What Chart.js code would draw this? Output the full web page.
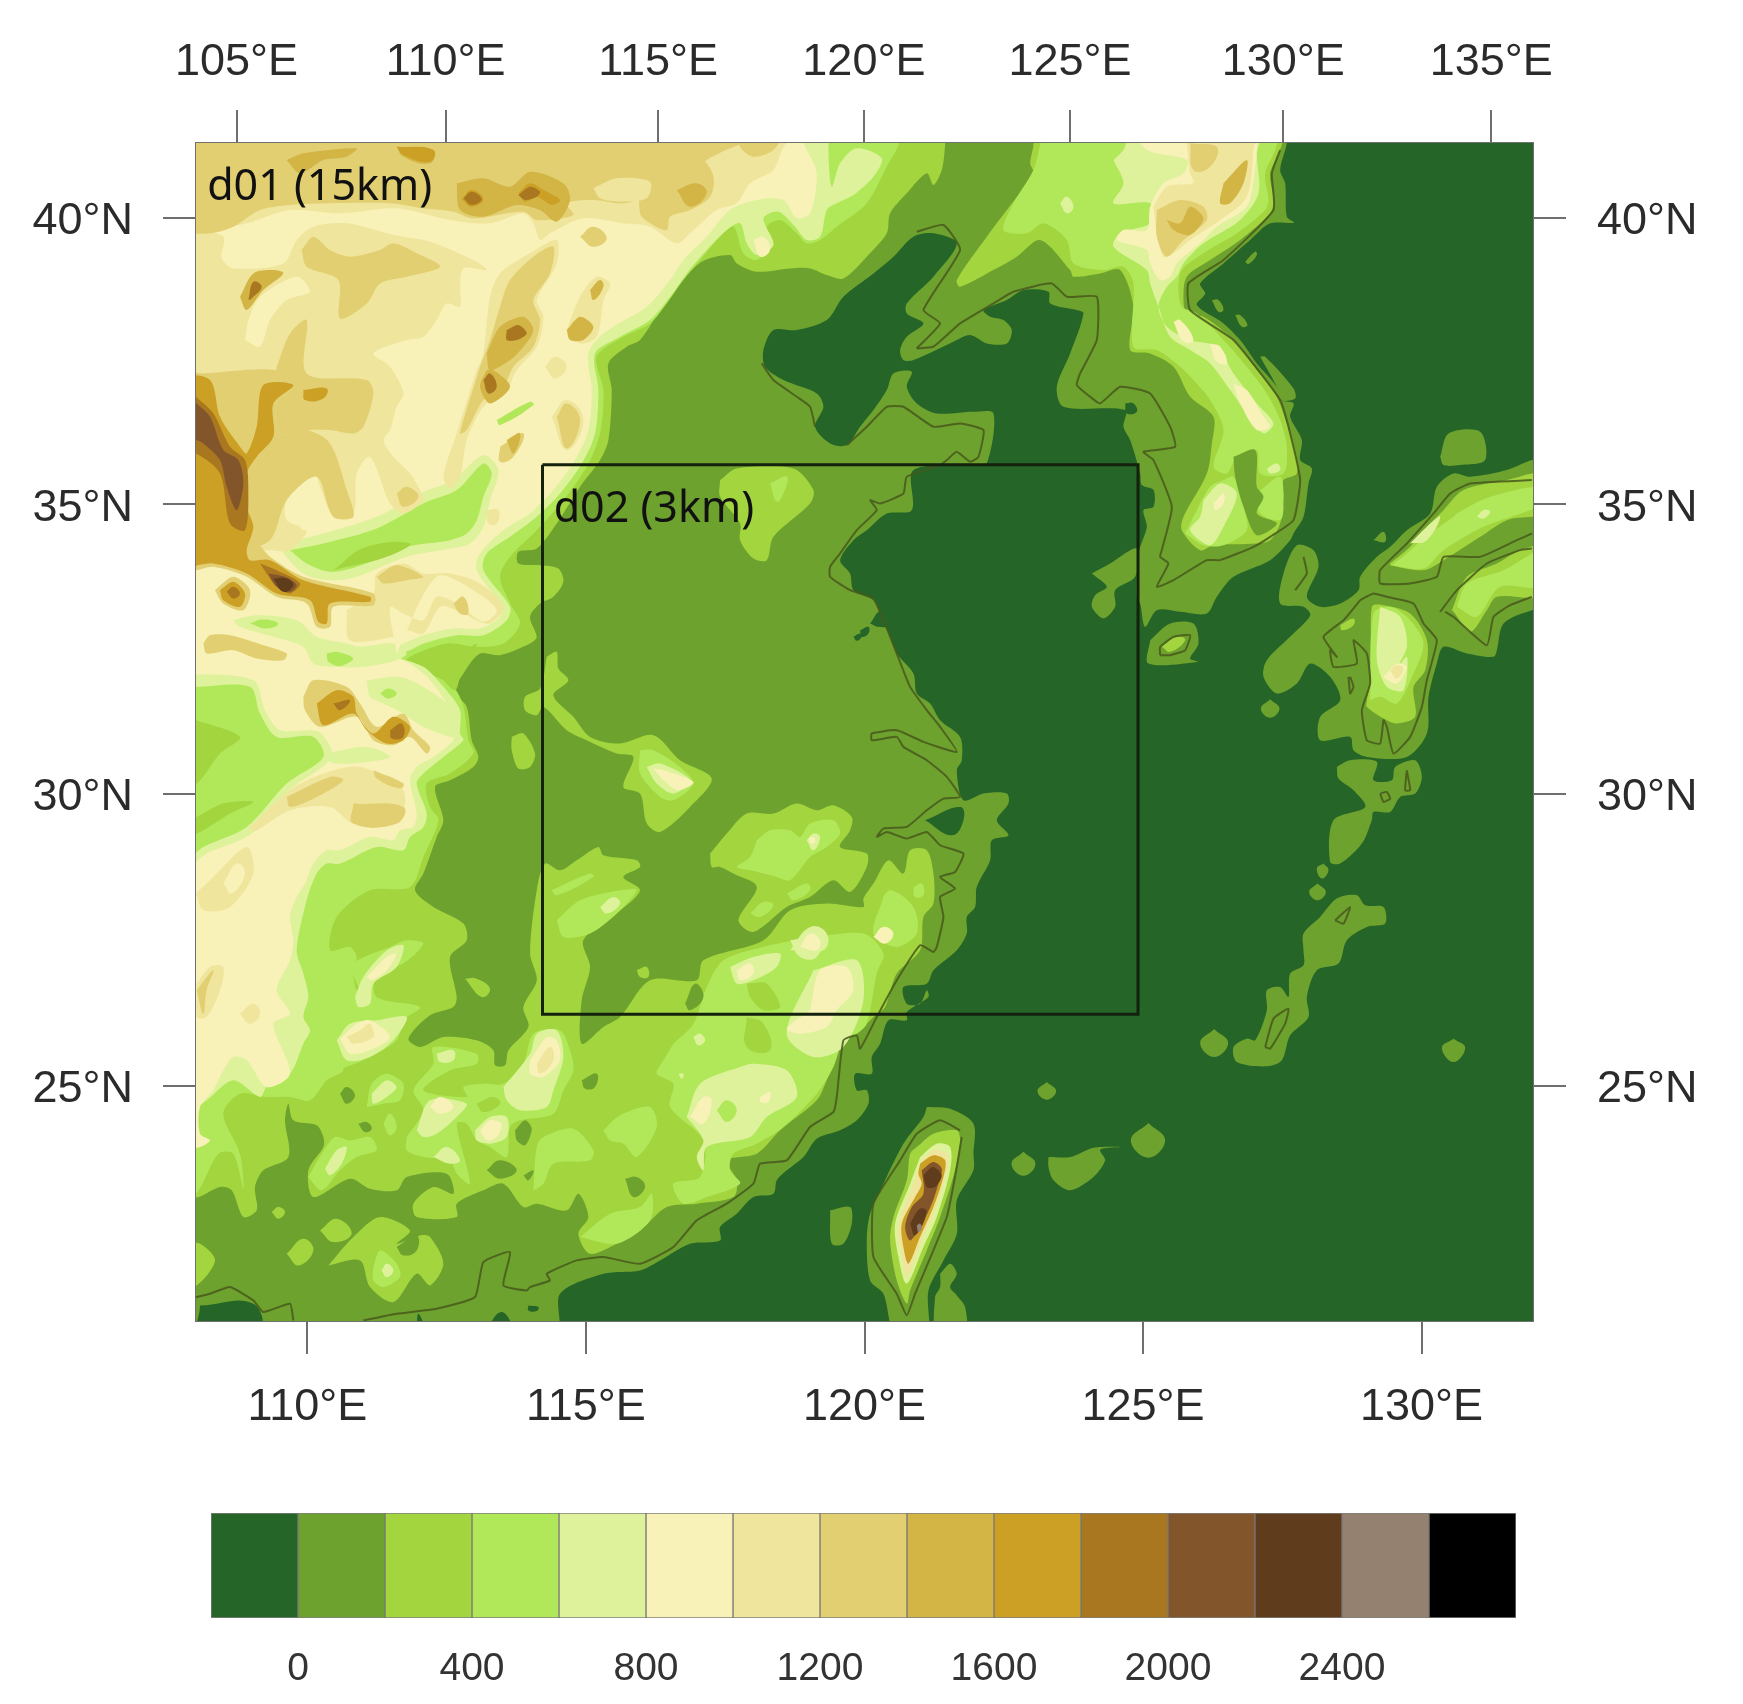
<!DOCTYPE html>
<html>
<head>
<meta charset="utf-8">
<title>WRF domains d01 / d02 terrain</title>
<script src="https://cdn.jsdelivr.net/npm/chart.js@4/dist/chart.umd.min.js"></script>
<style>
html, body { margin: 0; background: #fff; }
#wrap { position: relative; width: 1743px; height: 1704px; overflow: hidden; }
canvas { position: absolute; left: 0; filter: blur(0.6px); }
#mapChart { top: 0; }
#barChart { top: 1440px; }
</style>
</head>
<body>
<div id="wrap">
<canvas id="mapChart" width="1743" height="1440"></canvas>
<canvas id="barChart" width="1743" height="264"></canvas>
</div>
<script>
// terrain height classes (m) and their colours
const levelEdges = [-200, 0, 200, 400, 600, 800, 1000, 1200, 1400, 1600, 1800, 2000, 2200, 2400, 2600, 2800];
const levelColors = ['#256528', '#6ca22d', '#a2d53e', '#b1e85a', '#ddf29b', '#f8f1b8', '#f0e59c', '#e1cf72',
    '#d2b545', '#cba024', '#a97720', '#82552a', '#5f3c1c', '#95816f', '#000000'];
const colorbarTicks = [0, 400, 800, 1200, 1600, 2000, 2400];

// axis ticks (the projection bends a little, so the ticks are not evenly spaced)
const bottomLonTicks = [110, 115, 120, 125, 130];
const topLonTicks = [105, 110, 115.08, 120, 124.93, 130.03, 135];
const latTicks = [25, 30.05, 35.05, 40];

// nested domain d02
const boxLon = [114.22, 124.91, 124.91, 114.22, 114.22];
const boxLat = [35.73, 35.73, 26.24, 26.24, 35.73];
const domainNames = ['d01 (15km)', 'd02 (3km)'];
const domainLon = [108.2, 114.42];
const domainLat = [40.31, 34.74];

// contour outlines, flat [u, v, u, v, ...] lists in digitising units
// (1 deg lon = 167.1 u, 1 deg lat = 173.6 v), converted to lon/lat by gridLon / gridLat
const seaArea = [
[-30,-30,4060,-30,4060,3580,-30,3580]
];
const landAreas = [
[3290,-30,3290,10,3270,90,3285,130,3290,230,3312,248,3240,250,3180,300,3100,370,3030,430,3045,460,3020,495,3100,550,3150,600,3200,670,3260,740,3275,780,3310,790,3300,830,3335,900,3330,960,3365,985,3355,1030,3340,1130,3310,1180,3300,1200,3240,1260,3130,1310,3080,1370,3050,1420,2970,1415,2900,1410,2865,1460,2850,1390,2840,1375,2845,1240,2870,1160,2860,1110,2890,1100,2890,1050,2855,1035,2850,1000,2820,900,2800,860,2805,810,2620,800,2600,740,2640,640,2680,520,2660,510,2580,490,2575,455,2500,450,2450,480,2380,510,2400,530,2440,540,2465,570,2450,610,2390,610,2340,585,2290,605,2170,660,2140,660,2130,630,2150,590,2200,550,2150,520,2150,490,2230,410,2300,310,2230,280,2170,290,2110,350,2050,400,1960,470,1910,540,1820,570,1750,570,1720,630,1725,680,1780,720,1880,760,1900,800,1875,860,1920,910,1970,915,2010,860,2050,810,2090,750,2110,700,2165,695,2150,740,2180,790,2240,820,2350,815,2410,820,2390,970,2350,975,2170,990,2165,1110,2090,1120,2030,1170,1990,1200,1950,1260,1980,1300,1990,1350,2050,1380,2070,1420,2100,1490,2120,1540,2170,1600,2180,1660,2220,1690,2250,1740,2310,1790,2315,1860,2300,1890,2320,1980,2380,1960,2450,1960,2455,1990,2420,2040,2455,2085,2405,2100,2400,2160,2360,2240,2355,2300,2330,2330,2330,2380,2300,2430,2230,2490,2210,2530,2140,2540,2150,2590,2190,2590,2210,2550,2215,2570,2150,2615,2150,2640,2095,2640,2070,2710,2045,2750,2045,2800,1995,2800,2000,2850,2030,2850,2035,2890,2000,2940,1950,2970,1880,2995,1840,3050,1790,3090,1760,3120,1750,3160,1690,3170,1640,3220,1590,3260,1590,3300,1500,3310,1410,3360,1350,3390,1240,3400,1110,3460,1095,3580,-30,3580,-30,-30],
[2210,2900,2280,2905,2350,2950,2350,3040,2350,3090,2300,3180,2300,3280,2260,3360,2215,3450,2210,3580,2115,3580,2080,3460,2040,3420,2030,3300,2040,3220,2080,3130,2140,3010,2200,2930],
[2250,3400,2280,3370,2300,3400,2280,3440,2300,3465,2325,3500,2325,3580,2240,3580,2235,3470,2250,3440],
[1920,3210,1980,3200,1985,3250,1960,3310,1925,3310],
[2570,2825,2598,2852,2570,2878,2542,2852],
[2500,3034,2536,3070,2500,3106,2464,3070],
[2575,3050,2640,3050,2700,3025,2730,3020,2790,3020,2730,3028,2745,3060,2710,3110,2640,3150,2590,3120,2575,3080],
[2875,2948,2925,3000,2875,3052,2822,3000],
[3072,2666,3114,2708,3072,2750,3030,2708],
[3790,2695,3825,2722,3790,2765,3755,2722],
[3390,2330,3440,2275,3500,2265,3525,2295,3580,2300,3585,2350,3530,2360,3470,2400,3445,2470,3380,2490,3350,2570,3355,2630,3300,2685,3275,2760,3230,2778,3140,2765,3130,2720,3170,2695,3195,2700,3230,2610,3230,2550,3270,2540,3295,2570,3300,2500,3340,2475,3340,2430,3340,2380],
[4060,960,4025,960,3950,990,3840,1010,3790,1000,3740,1040,3720,1120,3650,1170,3600,1220,3560,1250,3510,1310,3505,1350,3450,1390,3390,1400,3350,1370,3385,1280,3370,1230,3320,1215,3280,1300,3270,1390,3340,1400,3360,1425,3310,1480,3230,1560,3220,1610,3260,1660,3320,1630,3360,1570,3420,1610,3450,1680,3390,1730,3390,1800,3480,1790,3490,1830,3530,1850,3650,1850,3710,1780,3715,1670,3740,1570,3760,1520,3830,1540,3910,1550,3920,1530,3940,1450,4025,1410,4060,1410],
[3440,1880,3480,1860,3560,1865,3550,1920,3605,1920,3615,1880,3675,1860,3695,1910,3675,1960,3630,1970,3600,2015,3550,2015,3545,2040,3515,2110,3450,2170,3420,2165,3430,2040,3525,2000,3490,1950,3445,1915],
[3240,1677,3268,1705,3240,1733,3212,1705],
[3382,2230,3407,2255,3382,2280,3357,2255],
[3400,2170,3415,2190,3395,2215,3380,2185],
[2880,1500,2940,1450,3010,1450,3025,1510,3000,1555,3025,1565,2875,1570],
[2705,1300,2760,1270,2840,1225,2835,1310,2775,1350,2775,1400,2740,1435,2705,1400,2715,1365,2750,1340],
[3750,950,3775,880,3870,875,3885,960,3810,975,3760,975],
[3550,1200,3580,1175,3585,1205],
[3165,365,3195,335,3200,345,3175,372],
[3065,480,3085,480,3100,510,3085,515],
[3135,525,3150,525,3172,555,3155,560],
[3210,650,3225,650,3310,745,3315,775,3270,780,3260,740]
];
const seaPatches = [
[2205,2040,2310,2000,2320,2040,2285,2085],
[30,3495,190,3490,205,3580,30,3580],
[880,3580,935,3515,965,3580],
[680,3580,685,3520,705,3580],
[1015,3495,1045,3500,1040,3512,1015,3510],
[2040,1450,2070,1415,2095,1455,2065,1460],
[2010,1470,2035,1460,2035,1480,2015,1490],
[1990,1490,2010,1480,2015,1490,2000,1502],
[2805,790,2830,790,2840,815,2810,820]
];
const above200 = [
[2265,-30,2265,15,2255,90,2230,135,2210,100,2150,160,2100,220,2090,280,2030,350,1960,415,1910,405,1860,385,1800,385,1700,395,1640,370,1620,345,1535,365,1470,430,1410,510,1350,600,1310,620,1255,670,1265,750,1255,900,1230,960,1170,1040,1100,1150,1040,1225,985,1235,985,1270,1050,1275,1105,1285,1120,1325,1090,1370,1050,1390,1020,1430,1040,1490,1020,1510,930,1545,870,1540,820,1600,795,1655,830,1700,845,1800,865,1850,850,1880,780,1920,735,1940,760,2040,740,2090,700,2200,675,2250,730,2300,820,2350,830,2400,780,2450,800,2570,790,2600,720,2625,655,2695,690,2720,760,2690,860,2700,910,2730,915,2775,945,2775,955,2730,1015,2660,1000,2600,1040,2520,1020,2440,1040,2250,1065,2170,1110,2190,1160,2160,1225,2120,1240,2145,1340,2160,1350,2180,1300,2210,1350,2250,1280,2320,1180,2400,1200,2480,1175,2580,1175,2710,1240,2660,1290,2630,1380,2520,1520,2520,1540,2460,1720,2400,1800,2310,1910,2290,2020,2300,2020,2275,2050,2230,2095,2160,2140,2200,2160,2130,2210,2130,2230,2200,2230,2290,2200,2330,2190,2430,2120,2500,2085,2600,2050,2630,2000,2680,1960,2700,1910,2820,1880,2880,1770,2970,1700,3040,1610,3060,1640,3120,1630,3170,1520,3190,1430,3200,1350,3270,1280,3310,1200,3340,1165,3280,1195,3230,1165,3160,1130,3210,1040,3190,1000,3200,940,3130,880,3150,800,3190,800,3230,680,3230,670,3190,730,3140,790,3160,770,3100,650,3110,620,3150,540,3145,480,3115,370,3170,355,3090,400,3020,400,2990,380,2955,310,2940,295,2890,285,2940,295,3050,220,3090,195,3140,200,3210,160,3230,125,3150,90,3140,25,3170,-30,3170,-30,-30],
[2530,-30,2530,15,2520,70,2530,100,2450,210,2390,290,2300,420,2310,440,2410,390,2480,350,2550,300,2640,390,2650,410,2730,400,2790,390,2830,500,2820,630,2880,640,2950,680,3000,770,3070,830,3065,910,3050,1000,2980,1130,2975,1170,3030,1230,3070,1215,3200,1210,3240,1200,3270,1150,3280,1070,3280,1020,3320,1000,3310,920,3290,850,3255,760,3200,690,3130,600,3040,530,2990,520,2980,480,2990,410,3060,360,3150,300,3240,220,3250,180,3240,100,3270,30,3275,-30],
[1590,1020,1640,985,1810,985,1870,1050,1860,1090,1750,1190,1730,1260,1690,1255,1650,1200,1650,1150,1590,1070],
[1070,1550,1100,1535,1105,1585,1135,1620,1090,1665,1150,1730,1200,1790,1290,1810,1390,1785,1470,1860,1565,1915,1500,2000,1410,2075,1370,2050,1350,1960,1300,1940,1330,1850,1280,1840,1190,1800,1130,1770,1060,1700,1040,1725,1005,1710,1005,1670,1050,1645],
[965,1790,1000,1780,1035,1840,1020,1880,985,1885,965,1830],
[1560,2140,1610,2080,1670,2020,1750,2020,1820,1990,1880,2010,1930,1995,1985,2030,1980,2070,1950,2120,2030,2140,2030,2180,1980,2255,1930,2220,1860,2270,1790,2300,1690,2375,1645,2340,1700,2240,1630,2200,1590,2180,1565,2180],
[3600,1270,3660,1220,3700,1170,3760,1110,3820,1050,3950,1020,4025,1000,4060,1000,4060,1130,4025,1130,3950,1140,3870,1190,3760,1260,3700,1290,3600,1275],
[3785,1410,3830,1310,3920,1270,3990,1230,4060,1220,4060,1365,3920,1370,3890,1410,3840,1475,3790,1415],
[3530,1680,3545,1600,3545,1400,3580,1395,3660,1420,3710,1500,3705,1590,3670,1640,3675,1730,3620,1750,3580,1735,3530,1700],
[3450,1455,3490,1435,3490,1455,3455,1470],
[2915,1520,2960,1490,2985,1500,2940,1535],
[825,2515,860,2515,900,2545,875,2570],
[1340,2490,1370,2480,1375,2510,1350,2510],
[415,3375,490,3290,570,3230,660,3270,620,3310,690,3285,720,3290,760,3370,720,3435,680,3400,610,3485,540,3440,510,3360],
[390,3270,440,3235,485,3280,430,3305],
[290,3340,340,3295,370,3330,325,3375],
[-30,3310,30,3310,75,3360,20,3435,-30,3435],
[245,3215,265,3200,285,3215,265,3235],
[2180,3020,2230,2980,2300,2970,2310,3000,2295,3090,2250,3230,2210,3330,2160,3450,2150,3490,2120,3420,2100,3300,2110,3230,2150,3120,2160,3040]
];
const gaps200 = [
[450,2860,470,2840,495,2865,470,2890],
[505,2950,530,2945,545,2965,525,2975],
[975,2970,1005,2940,1025,2965,1005,3015,980,3000],
[890,3090,930,3060,980,3090,930,3115],
[1000,3105,1030,3090,1015,3120],
[1175,2820,1220,2800,1215,2840,1185,2845],
[1305,3115,1340,3110,1365,3140,1330,3170],
[1485,2590,1515,2530,1540,2570,1500,2610],
[620,3320,680,3285,680,3330,640,3345],
[3130,950,3195,930,3200,1040,3220,1070,3200,1120,3260,1150,3200,1185,3160,1100,3135,1010]
];
const above400 = [
[-30,3160,18,3160,85,3040,130,3040,160,3145,150,3040,100,2920,150,2860,230,2870,300,2870,360,2880,410,2820,460,2790,440,2740,440,2680,480,2660,540,2590,500,2550,490,2490,500,2450,480,2420,420,2430,440,2330,540,2250,660,2240,700,2150,745,2040,720,2000,710,1930,780,1900,850,1840,835,1800,820,1700,790,1640,720,1600,650,1560,680,1540,770,1510,860,1520,940,1510,990,1450,960,1390,930,1310,960,1250,1040,1170,1120,1080,1190,980,1230,880,1240,750,1220,650,1300,590,1380,550,1430,490,1480,420,1530,360,1590,290,1630,260,1660,340,1700,360,1750,310,1730,260,1770,240,1820,280,1850,310,1890,300,1940,260,2030,190,2095,70,2125,15,2125,-30,-30,-30],
[410,2800,440,2660,490,2620,540,2580,500,2530,490,2470,600,2420,650,2400,700,2410,640,2470,560,2500,560,2570,690,2600,640,2640,620,2700,520,2760,440,2790],
[355,3110,395,3040,435,2990,480,3000,540,2990,560,3030,500,3050,450,3090,395,3150],
[530,2900,545,2830,590,2800,640,2830,630,2880,580,2890],
[580,2950,600,2920,620,2960,600,2985],
[650,2990,700,2910,670,2850,730,2770,730,2720,860,2740,860,2770,780,2790,700,2850,830,2870,820,2840,880,2830,940,2830,1000,2770,1030,2680,1110,2670,1140,2730,1150,2790,1120,2850,1090,2920,990,2940,960,2960,950,3050,900,3020,860,3000,830,2950,800,2950,840,3130,800,3100,780,3060,700,3050,650,3030],
[1030,3150,1040,3020,1060,2990,1150,2965,1210,3030,1200,3060,1090,3070,1060,3130],
[1240,2970,1290,2925,1380,2900,1400,2960,1340,3050,1300,3010,1260,3000],
[1170,3290,1260,3220,1350,3200,1385,3160,1380,3240,1280,3310],
[1450,2710,1510,2650,1550,2540,1600,2460,1720,2420,1850,2395,2020,2380,2080,2440,2060,2500,2030,2650,2000,2680,1960,2700,1930,2780,1880,2860,1780,2960,1700,3010,1630,3040,1620,3090,1650,3130,1550,3170,1480,3190,1450,3130,1530,3110,1540,3000,1440,2900,1450,2830,1400,2800,1420,2760],
[2060,2300,2100,2250,2170,2300,2180,2380,2120,2420,2050,2380,2080,2270],
[1700,2100,1740,2070,1800,2070,1830,2090,1860,2050,1930,2040,1950,2080,1910,2120,1860,2150,1800,2220,1760,2210,1680,2190,1640,2180,1680,2150],
[1680,2320,1720,2285,1750,2295,1710,2330],
[1790,2260,1850,2230,1860,2250,1810,2280],
[2170,2240,2195,2230,2200,2265,2175,2270],
[1100,2340,1170,2280,1290,2250,1340,2250,1280,2320,1200,2380,1120,2390],
[1085,2250,1200,2200,1210,2210,1100,2265],
[1350,1830,1390,1830,1470,1880,1510,1930,1450,1980,1410,1970,1350,1900],
[1740,1030,1790,1010,1780,1060,1760,1085],
[550,3380,570,3330,620,3370,630,3410,580,3440,550,3420],
[2560,-30,2550,15,2530,90,2470,190,2440,270,2510,280,2560,250,2630,300,2650,370,2740,390,2800,380,2830,430,2830,620,2900,630,2970,680,3010,720,3060,780,3100,870,3070,980,3110,1000,3140,950,3200,930,3210,1000,3280,1000,3290,920,3270,840,3230,760,3170,680,3110,610,3020,520,2975,500,2965,440,2975,390,3040,340,3140,280,3225,210,3235,180,3225,100,3255,30,3260,-30],
[2985,1180,3020,1110,3060,1040,3100,1020,3130,1010,3160,1100,3170,1170,3100,1215,3040,1215],
[3200,1060,3270,1010,3280,1100,3270,1140,3210,1120],
[3605,1275,3650,1240,3700,1195,3790,1130,3800,1120,3900,1070,4060,1040,4060,1090,3880,1160,3760,1230,3700,1285],
[3800,1400,3830,1330,3940,1290,4060,1230,4060,1340,3930,1340,3860,1430],
[3540,1680,3550,1420,3600,1400,3660,1440,3700,1510,3670,1600,3620,1690,3570,1670]
];
const gaps400 = [
[20,1740,150,1790,90,1840,20,1930,-30,1930,-30,1740],
[20,2030,100,1990,190,1985,120,2020,20,2080,-30,2080],
[660,1560,780,1560,860,1510,815,1590,795,1650,740,1600],
[1670,2530,1730,2530,1770,2600,1720,2610,1680,2570],
[1670,2630,1720,2650,1740,2730,1670,2720],
[860,2890,910,2870,930,2890,880,2915]
];
const above600 = [
[1925,-30,1915,20,1925,140,1950,70,2000,25,2075,55,2050,110,1990,165,1940,190,1910,210,1890,290,1850,300,1815,260,1765,215,1720,235,1750,315,1700,345,1670,310,1650,250,1610,270,1550,330,1490,400,1440,470,1380,540,1290,590,1215,640,1225,750,1215,880,1175,970,1110,1060,1040,1130,960,1190,890,1240,880,1290,960,1400,950,1440,880,1485,800,1485,700,1510,660,1530,610,1545,700,1580,760,1640,810,1710,810,1780,820,1800,760,1850,700,1900,680,1930,710,2020,700,2060,660,2090,640,2130,560,2120,450,2170,410,2170,380,2200,350,2280,320,2430,340,2500,355,2570,340,2630,360,2670,340,2710,300,2800,230,2840,210,2870,130,2820,50,2880,20,2900,-30,2900,-30,-30],
[440,2700,480,2650,560,2640,650,2630,610,2700,540,2750,470,2760],
[495,2570,520,2510,590,2430,640,2415,620,2480,550,2530,540,2590,505,2600],
[405,3085,440,3030,470,3020,455,3070,420,3105],
[545,2860,590,2820,620,2840,590,2870,550,2890],
[680,2970,720,2880,830,2890,800,2930,740,2980,700,2990],
[730,3050,770,3020,810,3060,780,3070],
[855,2970,900,2930,950,2930,950,2990,900,3010,860,3000],
[740,2740,790,2730,790,2760,750,2765],
[940,2840,1020,2740,1040,2680,1100,2670,1120,2750,1090,2850,1070,2900,990,2910,950,2880],
[1620,2480,1690,2450,1770,2440,1760,2480,1690,2520,1640,2530],
[1870,2490,2000,2460,2020,2580,1960,2720,1870,2750,1790,2680],
[1800,2400,1890,2390,1880,2450,1830,2450],
[1490,2930,1530,2830,1650,2780,1690,2770,1790,2790,1820,2870,1730,2930,1680,2990,1550,3020,1540,3090,1520,3050,1540,3000],
[1510,2690,1530,2680,1545,2700,1525,2715],
[1465,2800,1480,2800,1475,2815],
[1800,2430,1860,2360,1910,2380,1900,2430],
[1850,2100,1870,2080,1890,2090,1870,2130],
[1230,2300,1270,2270,1290,2290,1250,2320],
[1370,1880,1410,1870,1500,1920,1450,1960,1400,1930],
[575,3390,590,3370,610,3390,590,3410],
[2770,60,2800,30,2830,-30,3210,-30,3200,40,3205,160,3150,240,3040,310,2980,370,2960,410,2930,440,2905,500,2930,560,3000,600,3080,620,3130,700,3200,790,3250,850,3220,880,3170,820,3120,750,3060,670,3000,630,2940,590,2905,500,2880,430,2870,390,2770,320,2790,280,2880,250,2880,190,2770,190,2800,130],
[3040,1080,3090,1030,3140,1060,3100,1160,3060,1215,3000,1170,3030,1130],
[3230,985,3260,970,3270,990,3240,1000],
[2610,190,2630,170,2650,200,2630,220],
[3660,1210,3710,1160,3750,1130,3710,1200],
[3860,1130,3880,1110,3900,1115,3880,1135],
[3570,1400,3630,1430,3650,1520,3610,1600,3650,1550,3640,1650,3590,1640,3560,1560],
[2190,3050,2240,3010,2280,3020,2280,3090,2240,3230,2200,3320,2150,3430,2125,3350,2115,3250,2160,3130]
];
const above800 = [
[1820,-30,1850,30,1880,100,1860,220,1820,235,1780,180,1700,180,1620,210,1550,290,1480,360,1440,420,1370,500,1240,580,1195,640,1205,750,1195,870,1155,960,1090,1050,1020,1120,940,1170,870,1240,860,1290,935,1400,925,1435,870,1465,790,1465,700,1485,640,1510,580,1530,660,1570,720,1620,780,1710,785,1780,790,1800,730,1850,680,1880,660,1920,680,2020,670,2060,630,2070,610,2100,540,2090,450,2130,410,2130,370,2170,345,2230,320,2270,300,2330,310,2400,300,2460,260,2550,300,2620,250,2650,300,2800,230,2840,170,2760,130,2750,100,2790,70,2850,30,2900,30,2980,60,3000,30,3020,-30,3020,-30,-30],
[450,2695,500,2650,540,2640,600,2690,540,2730,480,2740],
[530,2510,590,2450,620,2440,590,2490,545,2520],
[720,2900,750,2870,790,2900,750,2920],
[870,2970,900,2940,935,2950,920,2990,890,3000],
[1020,2760,1070,2690,1100,2700,1110,2760,1060,2810,1020,2800],
[1640,2490,1680,2470,1690,2500,1650,2520],
[1860,2610,1890,2490,1970,2480,1990,2550,1940,2610,1910,2660,1830,2680,1790,2665],
[1500,2930,1540,2870,1565,2880,1540,2950],
[1710,2870,1740,2855,1735,2885,1710,2885],
[1830,2420,1860,2380,1890,2400,1880,2430],
[1855,2095,1870,2090,1875,2105,1862,2110],
[1390,1885,1420,1890,1510,1925,1465,1950,1420,1920],
[2050,2390,2080,2360,2110,2380,2085,2410],
[2830,-30,2870,30,2990,60,2980,100,2920,130,2880,200,2870,270,2800,270,2780,300,2870,330,2880,370,2910,420,2940,410,2960,370,3030,310,3080,260,3170,200,3190,120,3200,30,3195,-30],
[2950,545,2970,540,3010,600,2980,605],
[3060,610,3090,620,3110,670,3080,665],
[3130,730,3170,750,3220,830,3240,860,3200,870,3150,790],
[3070,1090,3100,1060,3100,1090,3075,1110],
[3590,1600,3620,1570,3650,1580,3620,1630,3580,1610],
[1690,300,1720,290,1740,330,1710,350]
];
const basinRim = [
[-30,1600,190,1620,225,1710,270,1770,385,1775,425,1850,305,1945,185,2080,50,2140,-30,2190],
[260,1215,400,1180,560,1130,690,1060,790,1020,880,945,925,990,900,1080,880,1160,840,1210,780,1225,650,1250,500,1310,420,1320,340,1300],
[130,1440,200,1425,320,1440,380,1490,470,1510,510,1520,610,1510,650,1540,620,1560,520,1580,430,1580,370,1570,340,1520,250,1490,150,1460],
[530,1620,625,1610,700,1640,800,1720,800,1790,700,1760,640,1720,580,1690,540,1670],
[410,1840,530,1820,600,1850,480,1870,420,1865]
];
const basinFloor = [
[-30,1640,18,1640,180,1640,210,1720,260,1790,370,1790,400,1850,290,1930,170,2060,40,2120,-30,2170],
[300,1230,400,1210,560,1165,700,1090,800,1050,880,970,905,1000,880,1070,860,1140,830,1180,780,1200,650,1220,500,1280,420,1295,350,1270],
[180,1450,220,1438,265,1450,230,1465],
[410,1540,440,1535,490,1555,450,1578,415,1565],
[570,1660,595,1645,620,1660,595,1675],
[920,840,1020,785,1030,795,930,855],
[1580,2910,1610,2880,1640,2910,1610,2945]
];
const basinWedges = [
[20,1740,150,1790,90,1840,20,1930,-30,1930,-30,1740],
[20,2030,100,1990,190,1985,120,2020,20,2080,-30,2080],
[430,1290,530,1220,660,1210,590,1250]
];
const above1000 = [
[-30,260,100,260,170,250,300,210,450,220,620,205,780,240,900,250,1000,220,1030,250,1050,300,1080,280,1180,235,1300,250,1380,260,1460,310,1500,280,1580,210,1640,190,1680,130,1750,90,1780,20,1820,-30,-30,-30],
[18,270,100,290,95,355,130,385,280,370,320,300,370,260,470,250,610,285,720,305,850,360,890,390,820,385,810,440,810,500,770,490,740,540,700,590,650,600,550,640,600,680,640,760,620,800,600,870,580,900,610,950,660,1000,690,1050,700,1080,640,1120,600,1090,540,950,500,1000,490,1120,430,1130,370,1010,290,1080,290,1140,350,1170,300,1230,240,1230,-30,1230,-30,270],
[860,690,880,640,900,470,930,400,1020,340,1100,300,1100,370,1040,480,1060,530,1040,620,980,690,950,750,880,800,830,900,810,1010,780,1045,760,1010,800,880],
[1130,570,1170,470,1220,410,1260,430,1240,480,1220,590,1170,610],
[1065,680,1095,650,1130,680,1095,715],
[1085,830,1130,780,1180,840,1130,930],
[890,1110,925,1110,920,1150,895,1150],
[470,1410,550,1360,560,1300,640,1270,700,1300,780,1300,870,1330,940,1400,900,1450,860,1440,800,1410,750,1400,700,1480,650,1470,610,1490,480,1500],
[180,2060,300,1950,400,1900,510,1880,640,1950,620,2050,490,2050,420,2000,300,2010,190,2075],
[18,2260,60,2220,170,2120,190,2200,120,2300,40,2310],
[20,2530,60,2480,100,2480,90,2550,50,2630,20,2630],
[150,2620,190,2590,210,2620,180,2650],
[1040,2770,1080,2720,1090,2760,1050,2800],
[470,2690,510,2670,540,2650,550,2690,490,2710],
[2890,200,2930,140,3010,130,3000,100,2995,60,3000,-30,3195,-30,3190,30,3170,170,3090,240,3000,300,2950,340,2920,350,2900,280],
[3600,1590,3620,1575,3640,1585,3620,1615],
[2195,3060,2230,3030,2270,3040,2270,3090,2230,3220,2190,3310,2150,3410,2135,3340,2125,3260,2170,3130]
];
const gaps1000 = [
[18,0,270,0,240,30,120,50,18,55],
[165,600,175,540,210,470,320,410,360,455,290,480,240,540,210,620],
[290,1080,310,1010,380,1010,380,1130,340,1170],
[620,1540,740,1310,850,1350,920,1410,880,1445,800,1390,740,1370,700,1440,640,1420,600,1400],
[100,2230,140,2170,165,2200,125,2260]
];
const above1200 = [
[-30,280,60,280,130,260,210,210,300,195,420,190,600,190,700,205,790,215,850,235,1000,215,1040,240,1150,225,1130,190,1210,180,1300,190,1380,165,1420,130,1500,100,1550,60,1620,25,1760,-30,-30,-30],
[1350,60,1530,55,1570,110,1560,170,1500,210,1440,230,1430,270,1380,250,1350,220],
[335,330,370,290,420,330,480,350,570,330,610,310,680,340,750,380,650,410,570,430,530,490,450,535,445,420,350,380],
[260,680,300,580,350,540,350,700,530,720,550,760,520,860,490,880,420,870,350,870,270,880,260,790,310,740,260,690],
[40,700,260,690,310,740,260,790,270,880,350,870,420,910,470,1050,490,1130,430,1130,380,1010,290,1080,240,1200,140,1230,-30,1230,-30,700],
[870,680,900,600,930,500,960,420,1030,350,1090,320,1080,400,1030,480,1050,540,1030,620,970,680,940,740,880,780,830,870,810,880],
[930,920,1000,880,970,950,930,965],
[1100,830,1130,790,1170,840,1130,925],
[620,1060,650,1040,685,1070,640,1100],
[1170,290,1210,260,1250,295,1210,320],
[-30,1170,180,1190,240,1250,340,1310,550,1360,550,1395,430,1400,420,1460,380,1460,350,1390,260,1370,170,1310,70,1280,18,1290,-30,1290],
[75,1350,130,1310,180,1350,160,1410,100,1390],
[40,1510,60,1485,120,1485,220,1515,290,1540,280,1560,200,1555,130,1530,50,1540],
[340,1670,370,1620,470,1640,510,1690,560,1760,640,1720,670,1770,720,1820,710,1840,660,1790,610,1815,550,1800,500,1730,390,1760,345,1710],
[290,1970,420,1910,460,1920,380,1970,300,2000],
[550,1890,640,1930,630,1945,560,1915],
[490,1990,640,2000,620,2050,490,2050],
[560,1310,620,1275,700,1310,650,1320,580,1330],
[790,1390,820,1370,835,1420,810,1420],
[20,2550,70,2490,50,2550,40,2620],
[3000,10,3080,20,3060,80,3010,90],
[2900,210,2970,180,3040,200,3050,240,2980,300,2930,350,2900,290],
[1650,-30,1780,-30,1750,30,1690,50,1650,20]
];
const gaps1200 = [
[1210,145,1280,115,1380,125,1370,175,1290,185,1230,175]
];
const above1400 = [
[800,130,880,115,960,140,1020,95,1120,130,1140,180,1100,245,1050,210,980,195,880,230,810,210],
[290,60,340,40,500,25,470,50,400,60,330,100],
[620,20,730,30,720,70,640,50],
[150,470,190,400,250,390,280,400,220,450,170,510],
[890,640,930,560,1000,530,1030,570,1000,620,960,660,900,690],
[890,690,910,690,960,740,900,790,870,740],
[1130,570,1170,530,1210,560,1180,600,1140,600],
[1200,450,1230,420,1240,440,1210,480],
[180,1000,210,830,230,835,200,890],
[950,900,990,880,970,940],
[1460,150,1520,130,1550,160,1500,200],
[3100,130,3170,60,3160,130,3120,190,3090,190],
[2930,240,2970,250,3000,200,3040,235,3000,285,2950,270]
];
const above1600 = [
[815,178,845,150,880,178,845,200],
[985,160,1020,130,1060,150,1110,180,1085,195,1040,170,1005,185],
[620,20,730,30,720,65,640,45],
[340,750,410,745,400,775,345,780],
[-30,700,60,720,90,830,150,920,170,940,200,860,220,735,310,735,250,790,250,890,200,950,170,1000,170,1100,190,1160,170,1230,180,1260,240,1260,340,1320,540,1370,540,1385,420,1390,410,1450,385,1445,360,1380,260,1360,170,1300,70,1270,-30,1270],
[90,1350,130,1325,165,1360,150,1400,100,1380],
[380,1690,440,1650,490,1670,500,1720,550,1780,610,1730,660,1760,640,1800,590,1810,530,1770,490,1720,400,1755],
[2190,3070,2230,3045,2265,3060,2260,3110,2230,3200,2190,3290,2155,3370,2140,3320,2135,3250,2175,3170,2195,3130,2185,3100]
];
const above1800 = [
[18,770,70,820,120,920,165,960,175,1050,165,1170,120,1150,90,1000,18,940,-30,940,-30,770],
[820,175,845,155,875,178,845,195],
[985,165,1020,140,1050,155,1040,170,1005,180],
[175,480,190,425,215,440,185,475],
[950,570,985,555,1010,580,980,600,950,600],
[880,720,900,700,920,740,895,760],
[210,1270,260,1290,330,1330,300,1360,260,1340],
[110,1355,130,1340,150,1360,130,1375],
[430,1690,480,1680,450,1710],
[600,1770,635,1750,640,1790,605,1795]
];
const above2000 = [
[20,790,60,830,100,930,145,960,160,1030,140,1110,110,1040,90,960,40,910,18,900,-30,900,-30,790],
[235,1300,285,1310,320,1335,300,1355,260,1340],
[2195,3090,2230,3065,2255,3085,2245,3130,2225,3190,2190,3260,2160,3300,2145,3260,2165,3200,2200,3160]
];
const above2200 = [
[250,1315,290,1315,310,1335,280,1355],
[2200,3105,2228,3080,2255,3105,2235,3140,2210,3140],
[2160,3250,2190,3205,2210,3215,2175,3285]
];
const above2400 = [
[2180,3255,2190,3250,2195,3265,2185,3275]
];
const coastLines = [
[1715,670,1750,720,1820,770,1860,800,1875,860],
[1970,915,2030,860,2090,800,2140,800,2230,860,2310,850,2380,870,2365,950,2340,965,2300,935,2270,960,2250,975,2150,1010,2140,1060,2070,1090,2040,1080,2060,1110,2000,1170,1950,1240,1920,1280,1920,1310,1980,1350,2050,1375,2120,1540,2160,1640,2210,1710,2250,1760,2300,1835,2200,1805,2120,1770,2045,1780,2045,1800,2120,1790,2140,1820,2210,1860,2270,1910,2310,1970,2260,1975,2210,2010,2150,2060,2080,2065,2060,2090,2090,2075,2150,2095,2210,2075,2250,2115,2320,2140,2295,2195,2250,2210,2295,2245,2250,2270,2260,2330,2240,2420,2230,2435,2190,2415,2120,2520,2060,2630,2010,2725,2000,2685,1960,2700,1940,2870,1930,2915,1860,2960,1790,3060,1710,3070,1690,3130,1610,3190,1520,3240,1450,3320,1350,3370,1240,3350,1160,3360,1070,3400,1080,3420,1020,3440,1010,3450,940,3435,960,3335,880,3365,855,3470,740,3505,620,3520,520,3540],
[18,3470,60,3460,120,3440,190,3480,220,3515,300,3490,310,3540],
[2180,625,2250,550,2200,510,2310,330,2260,255,2180,275],
[2180,625,2230,620,2310,550,2410,490,2470,455,2585,430,2630,470,2720,470,2720,600,2670,700,2660,735,2700,770,2730,790,2790,740,2880,760,2940,860,2955,920,2860,935,2890,960,2945,1100,2915,1230,2910,1250,2935,1270,2900,1340,2950,1320,3050,1260,3090,1260,3190,1220,3240,1190,3310,1140,3330,1020,3300,880,3270,780,3130,600,3000,510,2995,430,3100,360,3250,210,3245,100,3270,30],
[4025,1020,3840,1030,3780,1060,3730,1120,3650,1210,3570,1290,3570,1330,3660,1330,3740,1310,3760,1250,3870,1250,3980,1200,4025,1180],
[3510,1380,3550,1360,3590,1370,3670,1390,3700,1450,3740,1500,3710,1620,3695,1700,3660,1790,3610,1840,3590,1760,3580,1740,3570,1810,3530,1800,3515,1710,3540,1630,3530,1540,3490,1500,3500,1570,3430,1580,3420,1530,3440,1550,3400,1490,3460,1440,3510,1380],
[3765,1415,3790,1430,3890,1515,3910,1430,3960,1395,4025,1370],
[3750,1415,3800,1350,3890,1270,3990,1230,4025,1225],
[2910,1545,2910,1520,2950,1490,3000,1485,2985,1530,2940,1545,2910,1545],
[3340,1250,3350,1300,3315,1350],
[3480,1610,3490,1640,3480,1660,3475,1610],
[3650,1890,3660,1950,3645,1950,3650,1890],
[3570,1960,3590,1955,3600,1975,3580,1985,3570,1960],
[3225,2720,3250,2635,3295,2605,3285,2650,3240,2725,3225,2720],
[3435,2340,3480,2300,3460,2350,3435,2340],
[2310,2970,2250,2940,2180,2980,2130,3060,2050,3190,2050,3350,2120,3460,2150,3525,2175,3460,2270,3230,2300,3080,2315,2990]
];
// painting order, lowest contours first: [height class, outlines]
const paintOrder = [
    [0, seaArea], [1, landAreas], [0, seaPatches], [2, above200], [3, above400], [2, gaps400],
    [4, above600], [5, above800], [1, gaps200], [4, basinRim], [3, basinFloor], [2, basinWedges],
    [6, above1000], [5, gaps1000], [7, above1200], [6, gaps1200], [8, above1400],
    [9, above1600], [10, above1800], [11, above2000], [12, above2200], [13, above2400]
];

function gridLon(u) { return 108 + (u - 18) / 167.1; }
function gridLat(v) { return 41.29 - (v - 9) / 173.6; }

function toPoints(flat) {
    const points = [];
    for (let i = 0; i < flat.length; i += 2) {
        points.push({ x: gridLon(flat[i]), y: gridLat(flat[i + 1]) });
    }
    return points;
}

const datasets = [];
paintOrder.forEach(([level, outlines]) => {
    outlines.forEach(flat => {
        const points = toPoints(flat);
        points.push(points[0]);
        datasets.push({
            data: points, showLine: true, fill: 'shape', tension: flat.length > 8 ? 0.3 : 0.45,
            backgroundColor: levelColors[level], borderWidth: 0, borderColor: levelColors[level], pointRadius: 0
        });
    });
});
coastLines.forEach(flat => {
    datasets.push({
        data: toPoints(flat), showLine: true, fill: false, tension: 0.15,
        borderColor: 'rgba(72,88,28,0.85)', borderWidth: 2, pointRadius: 0
    });
});
datasets.push({
    data: boxLon.map((lon, i) => ({ x: lon, y: boxLat[i] })), showLine: true, fill: false,
    borderColor: '#13210d', borderWidth: 3, pointRadius: 0
});
// Chart.js paints the last dataset first, so flip the list to keep the contours in order
datasets.reverse();

// domain names sit on the map, so they go through the same scales
const domainNamePlugin = {
    id: 'domainNames',
    afterDatasetsDraw(chart) {
        const ctx = chart.ctx;
        ctx.save();
        ctx.font = '43px "Noto Sans"';
        ctx.fillStyle = '#111';
        ctx.textBaseline = 'alphabetic';
        domainNames.forEach((name, i) => {
            ctx.fillText(name, chart.scales.x.getPixelForValue(domainLon[i]), chart.scales.y.getPixelForValue(domainLat[i]));
        });
        ctx.restore();
    }
};

function mapAxis(position, min, max, tickValues, suffix, fitSize, padding, labelOffset) {
    const horizontal = position === 'top' || position === 'bottom';
    return {
        type: 'linear',
        position: position,
        min: min,
        max: max,
        afterBuildTicks: scale => { scale.ticks = tickValues.map(value => ({ value: value })); },
        afterFit: scale => {
            if (horizontal) scale.height = fitSize; else scale.width = fitSize;
        },
        border: { display: true, color: '#6f6f6f', width: 2 },
        grid: { drawOnChartArea: false, drawTicks: true, tickLength: 33, color: '#6f6f6f', lineWidth: 2 },
        ticks: {
            autoSkip: false,
            maxRotation: 0,
            padding: padding,
            labelOffset: labelOffset,
            color: '#2b2b2b',
            font: { family: '"Liberation Sans", Arial, sans-serif', size: 45 },
            callback: value => Math.round(value) + suffix
        }
    };
}

new Chart(document.getElementById('mapChart'), {
    type: 'scatter',
    data: { datasets: datasets },
    plugins: [domainNamePlugin],
    options: {
        responsive: false,
        animation: false,
        events: [],
        layout: { padding: 0 },
        plugins: { legend: { display: false }, tooltip: { enabled: false } },
        scales: {
            x: mapAxis('bottom', 108, 132, bottomLonTicks, '°E', 1440 - 1321, 27, 0),
            xTop: mapAxis('top', 104.03, 136, topLonTicks, '°E', 143, 20, 0),
            y: mapAxis('left', 20.94, 41.29, latTicks, '°N', 196, 30, 4),
            yRight: mapAxis('right', 20.94, 41.29, latTicks, '°N', 1743 - 1533, 31, 4)
        }
    }
});

// colour bar: one floating bar per height class
new Chart(document.getElementById('barChart'), {
    type: 'bar',
    data: {
        labels: ['height'],
        datasets: levelColors.map((color, i) => ({
            data: [[levelEdges[i], levelEdges[i + 1]]],
            backgroundColor: color,
            borderColor: 'rgba(0,0,0,0.5)',
            borderWidth: 1,
            borderSkipped: false,
            grouped: false,
            barPercentage: 1,
            categoryPercentage: 1
        }))
    },
    options: {
        indexAxis: 'y',
        responsive: false,
        animation: false,
        events: [],
        layout: { padding: { left: 211, right: 1743 - 1516, top: 73, bottom: 0 } },
        plugins: { legend: { display: false }, tooltip: { enabled: false } },
        scales: {
            y: { display: false },
            x: {
                type: 'linear',
                min: levelEdges[0],
                max: levelEdges[levelEdges.length - 1],
                afterBuildTicks: scale => { scale.ticks = colorbarTicks.map(value => ({ value: value })); },
                afterFit: scale => { scale.height = 264 - 178; },
                border: { display: false },
                grid: { display: false },
                ticks: {
                    autoSkip: false,
                    maxRotation: 0,
                    padding: 20,
                    color: '#333',
                    font: { family: '"Liberation Sans", Arial, sans-serif', size: 39 },
                    callback: value => String(value)
                }
            }
        }
    }
});
</script>
</body>
</html>
